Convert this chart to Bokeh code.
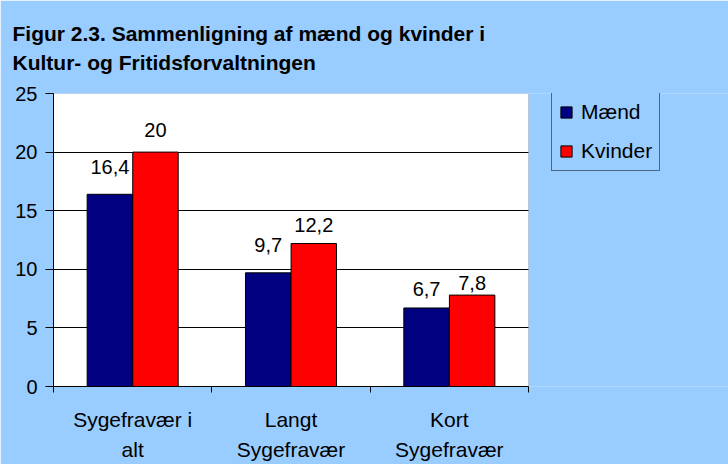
from bokeh.plotting import figure
from bokeh.models import (Range1d, LinearAxis, FixedTicker, BoxAnnotation, Grid,
                          Legend, LegendItem, ColumnDataSource, Title)
from bokeh.transform import dodge
from bokeh.core.properties import value
from bokeh.embed import file_html
from bokeh.resources import INLINE

# ---- data ----
categories = ["Sygefravær i alt", "Langt Sygefravær", "Kort Sygefravær"]
category_labels = ["Sygefravær i\nalt", "Langt\nSygefravær", "Kort\nSygefravær"]
maend = [16.4, 9.7, 6.7]
kvinder = [20, 12.2, 7.8]
maend_labels = ["16,4", "9,7", "6,7"]
kvinder_labels = ["20", "12,2", "7,8"]
y_ticks = [0, 5, 10, 15, 20, 25]
title_text = "Figur 2.3. Sammenligning af mænd og kvinder i\nKultur- og Fritidsforvaltningen"

# ---- style ----
maend_label_gap = [27, 28, 19]
kvinder_label_gap = [22, 19, 12]
BLUE_BG = "#99CCFF"
FONT = "Liberation Sans"
W, H = 728, 464
LEFT, TOP, BOTTOM = 53, 92, 78
PLOT_AREA_PX = 475          # width of the white plot area
FRAME_PX = W - LEFT         # frame spans to the right edge (legend lives there)

n = len(categories)
centers = [i + 0.5 for i in range(n)]
boundaries = list(range(n + 1))
y_max = y_ticks[-1]

src = ColumnDataSource(dict(
    xc=centers, maend=maend, kvinder=kvinder,
    ml=maend_labels, kl=kvinder_labels,
    mg=[-g for g in maend_label_gap], kg=[-g for g in kvinder_label_gap],
))

p = figure(width=W, height=H,
           x_range=Range1d(0, n * FRAME_PX / PLOT_AREA_PX), y_range=Range1d(0, y_max),
           output_backend="svg", toolbar_location=None, x_axis_location=None,
           min_border_left=LEFT, min_border_right=0, min_border_top=TOP, min_border_bottom=BOTTOM,
           background_fill_color=BLUE_BG, border_fill_color=BLUE_BG,
           outline_line_color=None)

# white plot area with grey border
p.add_layout(BoxAnnotation(left=0, right=n, bottom=0, top=y_max, fill_color="white",
                           fill_alpha=1, line_color="#808080", line_width=1, level="image"))

p.title = Title(text=title_text, align="left", offset=-41, text_font_size="21px",
                text_font=FONT, text_font_style="bold", text_line_height=1.24,
                standoff=39, text_color="black")

# x tick axis (ticks at category boundaries)
tick_axis = LinearAxis(ticker=FixedTicker(ticks=boundaries), bounds=(0, n),
                       major_label_text_font_size="1px", major_label_standoff=0,
                       major_label_text_alpha=0,
                       major_tick_out=6, major_tick_in=0, minor_tick_line_color=None,
                       axis_line_color="black", major_tick_line_color="black")
p.add_layout(tick_axis, "below")

cat_axis = LinearAxis(ticker=FixedTicker(ticks=centers),
                      major_label_overrides={c: lab for c, lab in zip(centers, category_labels)},
                      axis_line_color=None, major_tick_line_color=None, minor_tick_line_color=None,
                      major_label_text_font_size="21px", major_label_text_font=FONT,
                      major_label_text_line_height=1.34, major_label_standoff=9,
                      major_label_text_color="black")
p.add_layout(cat_axis, "below")

p.yaxis.ticker = FixedTicker(ticks=y_ticks)
p.yaxis.major_tick_out = 8
p.yaxis.major_tick_in = 0
p.yaxis.minor_tick_line_color = None
p.yaxis.axis_line_color = "black"
p.yaxis.major_tick_line_color = "black"
p.yaxis.major_label_text_font_size = "20px"
p.yaxis.major_label_text_font = FONT
p.yaxis.major_label_text_color = "black"
p.yaxis.major_label_standoff = 8

p.xgrid.visible = False
p.ygrid.ticker = FixedTicker(ticks=y_ticks[1:-1])
p.ygrid.grid_line_color = "black"
if "cross_bounds" in Grid.properties():
    p.ygrid.cross_bounds = (0, n)

r1 = p.vbar(x=dodge("xc", -0.144), top="maend", width=0.287, source=src,
            fill_color="#000080", line_color="black", line_width=1)
r2 = p.vbar(x=dodge("xc", 0.144), top="kvinder", width=0.287, source=src,
            fill_color="#FF0000", line_color="black", line_width=1)

for xo, yf, tf, of in [(-0.144, "maend", "ml", "mg"), (0.144, "kvinder", "kl", "kg")]:
    p.text(x=dodge("xc", xo), y=yf, text=tf, y_offset=of, source=src,
           text_align="center", text_baseline="alphabetic",
           text_font=value(FONT), text_font_size=value("20px"), text_color="black")

legend = Legend(items=[LegendItem(label="Mænd", renderers=[r1]),
                       LegendItem(label="Kvinder", renderers=[r2])],
                location=(498, 215), border_line_color="black", border_line_width=1,
                background_fill_color=BLUE_BG, background_fill_alpha=1,
                label_text_font_size="21px", label_text_font=FONT, label_text_color="black",
                glyph_width=14, glyph_height=14, label_standoff=8, padding=7,
                spacing=15, label_height=20, margin=0)
p.add_layout(legend, "center")

open("out.html", "w").write(file_html(p, INLINE))
